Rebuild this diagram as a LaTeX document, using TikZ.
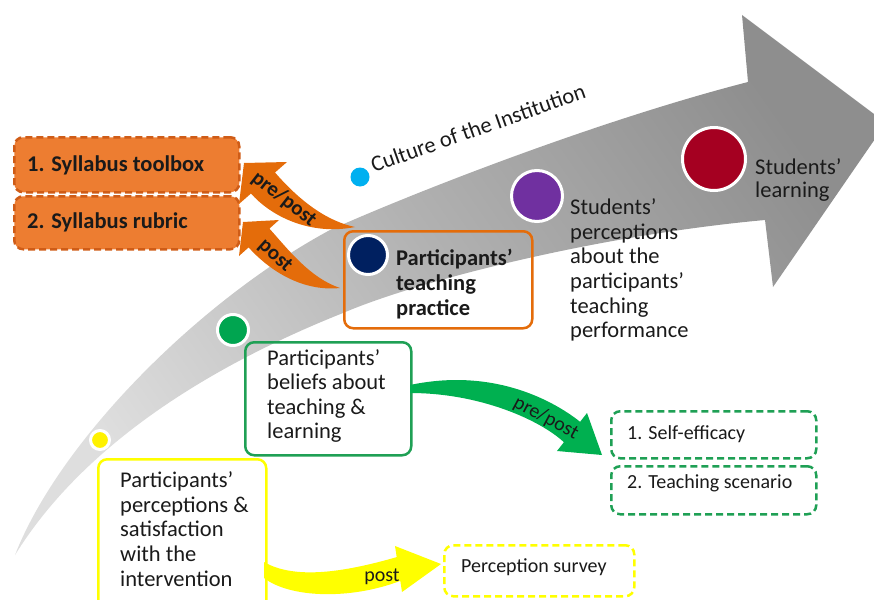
\documentclass[tikz,border=0pt]{standalone}
\usepackage{fontspec}
\setmainfont{Carlito}
\definecolor{ink}{HTML}{1A1A1A}
\definecolor{orangefill}{HTML}{ED7D31}
\definecolor{orangeline}{HTML}{CF5C17}
\definecolor{orangearrow}{HTML}{E46C0A}
\definecolor{greenline}{HTML}{1FA055}
\definecolor{greenarrow}{HTML}{00B050}
\definecolor{yellowline}{HTML}{FFFF00}
\definecolor{dotyellow}{HTML}{FFF200}
\definecolor{dotgreen}{HTML}{00A550}
\definecolor{dotnavy}{HTML}{002060}
\definecolor{dotpurple}{HTML}{7030A0}
\definecolor{dotred}{HTML}{A50021}
\definecolor{dotcyan}{HTML}{00B0F0}
\definecolor{arrowdark}{HTML}{8E8E8E}
\definecolor{arrowmid}{HTML}{B2B2B2}
\definecolor{arrowlight}{HTML}{DEDEDE}
\begin{document}
\begin{tikzpicture}[x=1pt,y=-1pt,
  txt/.style={text=ink, font=\fontsize{22.5}{24.6}\selectfont, align=left, inner sep=0pt},
  boldtxt/.style={txt, font=\fontsize{22.5}{24.6}\selectfont\bfseries},
  smalltxt/.style={text=ink, font=\fontsize{20}{24}\selectfont, inner sep=0pt},
  captionbold/.style={text=ink, font=\fontsize{21}{24}\selectfont\bfseries, inner sep=0pt},
  frame/.style={draw=#1, line width=2.5pt, rounded corners=9pt, inner sep=0pt},
  dashframe/.style={frame=#1, dash pattern=on 7pt off 4pt},
  dot/.style={circle, draw=white, line width=3pt, fill=#1, inner sep=0pt},
]
\useasboundingbox (0,0) rectangle (874,599);

% sweeping grey arrow in the background
\shade[top color=arrowdark, bottom color=arrowlight, middle color=arrowmid, shading angle=-55]
  (15,555) .. controls (60,440) and (200,300) .. (330,230)
  .. controls (420,190) and (600,120) .. (748,82)
  -- (742,15) -- (886,123) -- (773,287) -- (765,220)
  .. controls (600,235) and (420,280) .. (343,313)
  .. controls (200,370) and (80,450) .. (15,555) -- cycle;

% measurement boxes
\node[dashframe=orangeline, fill=orangefill, minimum width=225, minimum height=55, anchor=north west] (toolbox) at (13,136) {};
\node[dashframe=orangeline, fill=orangefill, minimum width=225, minimum height=53, anchor=north west] (rubric) at (13,195) {};
\node[frame=orangearrow, minimum width=188, minimum height=97, anchor=north west] (practice) at (343,230) {};
\node[frame=greenline, minimum width=166, minimum height=113, anchor=north west] (beliefs) at (244,341) {};
\node[frame=yellowline, minimum width=168, minimum height=150, anchor=north west] (perceptions) at (97,458) {};
\node[dashframe=greenline, minimum width=205, minimum height=47, anchor=north west] (efficacy) at (610,410) {};
\node[dashframe=greenline, minimum width=205, minimum height=48, anchor=north west] (scenario) at (610,465) {};
\node[dashframe=yellowline, minimum width=190, minimum height=51, anchor=north west] (survey) at (443,544) {};

% curved arrows towards the instruments
\coordinate (ptail1) at (355,227);
\coordinate (ptail2) at (340,288);
\fill[orangearrow] (ptail1) .. controls (322,220) and (294.7,195.1) .. (275,172.5)
  -- (287,162) -- (244,163) -- (239,204) -- (251,193.5)
  .. controls (270.7,216) and (310,236) .. (ptail1) -- cycle;
\fill[orangearrow] (ptail2) .. controls (310,278) and (288.1,249.4) .. (269.4,228.6)
  -- (279,220) -- (243,222) -- (239,256) -- (248.6,247.4)
  .. controls (267.3,268.2) and (300,292) .. (ptail2) -- cycle;
\coordinate (gtail) at (410,385);
\fill[greenarrow] (gtail) .. controls (490,368) and (550,398) .. (580.1,421.8)
  -- (587,413) -- (602,455) -- (557,451) -- (563.9,442.2)
  .. controls (540,420) and (480,393) .. (410,393) -- cycle;
\coordinate (ytail) at (264,562);
\fill[yellowline] (ytail) .. controls (295,580) and (345,572) .. (396.7,557.1)
  -- (395,546) -- (441,564) -- (402,592) -- (400.3,580.9)
  .. controls (350,600) and (290,598) .. (264,578) -- cycle;

% stage markers
\node[dot=dotyellow, minimum size=19] (cyellow) at (100,440) {};
\node[dot=dotgreen, minimum size=31] (cgreen) at (233,330) {};
\node[dot=dotnavy, minimum size=39] (cnavy) at (368,255) {};
\node[dot=dotpurple, minimum size=51] (cpurple) at (537,196) {};
\node[dot=dotred, minimum size=63] (cred) at (714,159) {};
\node[circle, fill=dotcyan, minimum size=19, inner sep=0pt] (ccyan) at (360,177) {};

% labels
\node[boldtxt, anchor=west] (toolboxtext) at (27,165) {1. Syllabus toolbox};
\node[boldtxt, anchor=west] (rubrictext) at (27,222) {2. Syllabus rubric};
\node[boldtxt, anchor=west] (practicetext) at (396,284) {Participants’\\teaching\\practice};
\node[txt, anchor=west] (beliefstext) at (267,396) {Participants’\\beliefs about\\teaching \&\\learning};
\node[txt, anchor=west] (perceptionstext) at (120,529) {Participants’\\perceptions \&\\satisfaction\\with the\\intervention};
\node[txt, anchor=west] (studentperc) at (570,270) {Students’\\perceptions\\about the\\participants’\\teaching\\performance};
\node[txt, anchor=west, font=\fontsize{22.5}{22}\selectfont] (learning) at (755,180) {Students’\\learning};
\node[txt, anchor=base west, rotate=19.5] (culture) at (374,173) {Culture of the Institution};
\node[smalltxt, anchor=west] (efficacytext) at (627,434) {1. Self-efficacy};
\node[smalltxt, anchor=west] (scenariotext) at (627,483) {2. Teaching scenario};
\node[smalltxt, anchor=west] (surveytext) at (461,567) {Perception survey};

% arrow captions
\node[captionbold, rotate=-38] (prepost1) at (284,199) {pre/post};
\node[captionbold, rotate=-42] (post1) at (275,256) {post};
\node[smalltxt, rotate=-28] (prepost2) at (546,418) {pre/post};
\node[smalltxt] (post2) at (382,577) {post};
\end{tikzpicture}
\end{document}
